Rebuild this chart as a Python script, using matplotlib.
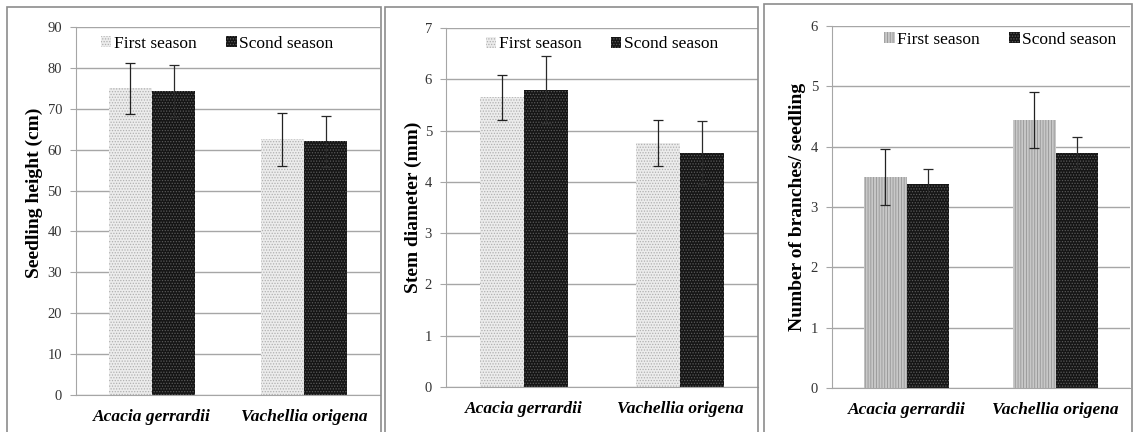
import matplotlib
matplotlib.use("Agg")
import matplotlib.pyplot as plt
from matplotlib.patches import Rectangle
import numpy as np

plt.rcParams['hatch.linewidth'] = 0.6

categories = ["Acacia gerrardii", "Vachellia origena"]
series = ["First season", "Scond season"]

height_first = [75.0, 62.5]
height_first_err = [6.3, 6.4]
height_second = [74.3, 62.0]
height_second_err = [6.3, 6.2]

diam_first = [5.65, 4.75]
diam_first_err = [0.44, 0.45]
diam_second = [5.8, 4.57]
diam_second_err = [0.65, 0.62]

branch_first = [3.5, 4.44]
branch_first_err = [0.46, 0.46]
branch_second = [3.38, 3.9]
branch_second_err = [0.25, 0.26]

ylabels = ["Seedling height (cm)", "Stem diameter (mm)", "Number of branches/ seedling"]
ymaxes = [90, 7, 6]
ysteps = [10, 1, 1]

W, H = 1134, 432
fig = plt.figure(figsize=(W / 100, H / 100), dpi=100)
fig.patch.set_facecolor("white")

serif = "Liberation Serif"

# panel borders (pixels: left, top, right, bottom)
borders = [(7, 7, 381, 434), (385, 7, 758, 434), (764, 4, 1132, 434)]
for (l, t, r, b) in borders:
    fig.patches.append(Rectangle((l / W, 1 - b / H), (r - l) / W, (b - t) / H,
                                 transform=fig.transFigure, fill=False,
                                 edgecolor="#8c8c8c", linewidth=1.2))

# axes rectangles (pixels: left, top, right, bottom)
axrects = [(76, 27, 380, 395), (446, 28, 758, 387), (832, 26, 1130, 388)]
legend_pos = [(0.465, 0.955), (0.50, 0.955), (0.565, 0.962)]
label_y = [0.549, 0.5, 0.5]
label_off = [42, 33, 34]

data = [
    (height_first, height_first_err, height_second, height_second_err),
    (diam_first, diam_first_err, diam_second, diam_second_err),
    (branch_first, branch_first_err, branch_second, branch_second_err),
]

x = np.arange(len(categories))
bw = 0.285

for i, ((l, t, r, b), (f, fe, s, se)) in enumerate(zip(axrects, data)):
    ax = fig.add_axes([l / W, 1 - b / H, (r - l) / W, (b - t) / H])
    ax.set_facecolor("white")
    ax.set_xlim(-0.5, 1.5)
    ax.set_ylim(0, ymaxes[i])
    ax.set_yticks(np.arange(0, ymaxes[i] + ysteps[i] / 2, ysteps[i]))
    ax.yaxis.grid(True, color="#a6a6a6", linewidth=1.0)
    ax.set_axisbelow(True)
    for sp in ["top", "right"]:
        ax.spines[sp].set_visible(False)
    ax.spines["left"].set_color("#a6a6a6")
    ax.spines["bottom"].set_color("#a6a6a6")
    ax.tick_params(axis="y", length=4, color="#a6a6a6", labelsize=10.5, pad=6,
                   labelcolor="#333333")
    ax.tick_params(axis="x", length=0, pad=10)
    if i == 2:
        fhatch, fface, fedge = "||||||", "#c8c8c8", "#959595"
    else:
        fhatch, fface, fedge = "......", "#ececec", "#b0b0b0"
    ax.bar(x - bw / 2, f, bw, color=fface, hatch=fhatch, edgecolor=fedge,
           linewidth=0, label=series[0])
    ax.bar(x + bw / 2, s, bw, color="#151515", hatch="......", edgecolor="#5a5a5a",
           linewidth=0, label=series[1])
    ax.errorbar(x - bw / 2, f, yerr=fe, fmt="none", ecolor="#222222", elinewidth=0.9,
                capsize=3.5, capthick=0.9)
    ax.errorbar(x + bw / 2, s, yerr=se, fmt="none", ecolor="#2a2a2a", elinewidth=0.9,
                capsize=3.5, capthick=0.9)
    ax.set_xticks(x)
    ax.set_xticklabels(categories, fontfamily=serif, fontstyle="italic",
                       fontweight="bold", fontsize=12.5)
    for lab in ax.get_yticklabels():
        lab.set_fontfamily(serif)
    ax.set_ylabel(ylabels[i], fontfamily=serif, fontweight="bold", fontsize=14)
    ax.yaxis.set_label_coords(-label_off[i] / (r - l), label_y[i])
    ax.yaxis.label.set_va("center")
    ax.legend(loc="center", bbox_to_anchor=legend_pos[i], ncol=2, frameon=False,
              prop={"family": serif, "size": 12.5}, handlelength=0.6, handleheight=0.6,
              handletextpad=0.15, columnspacing=1.7, borderaxespad=0)

fig.savefig("out.png", dpi=100, facecolor="white")
